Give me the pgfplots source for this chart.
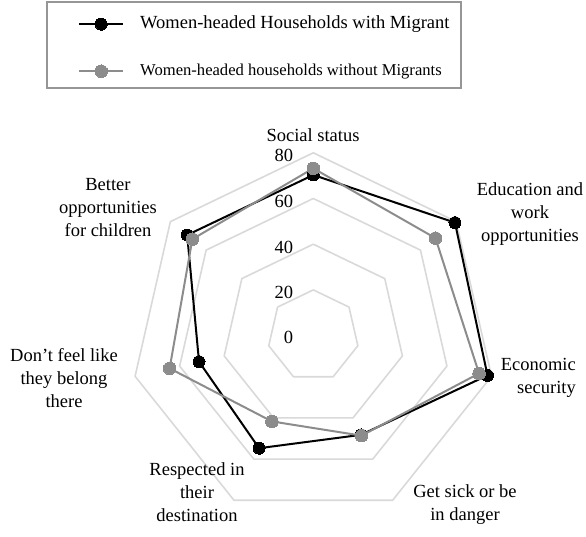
\documentclass[border=0pt]{standalone}
\usepackage{pgfplots}
\pgfplotsset{compat=1.18}
\usepgfplotslibrary{polar}
\usepackage{fontspec}
\setmainfont{Liberation Serif}
\definecolor{ring}{RGB}{217,217,217}
\definecolor{sergray}{RGB}{140,140,140}
\definecolor{framegray}{RGB}{150,150,150}
\newcommand{\ff}{\fontsize{18.5}{23}\selectfont}
\begin{document}
\begin{tikzpicture}[x=1pt,y=1pt,font=\ff]
\useasboundingbox (0,0) rectangle (586,537);
% legend frame
\draw[framegray, line width=1.3pt] (47,535) rectangle (461,449);
\begin{polaraxis}[
  at={(313.3pt,201.4pt)}, anchor=center,
  scale only axis, width=365.6pt, height=365.6pt,
  xmin=0, xmax=360, ymin=0, ymax=80,
  hide axis, clip=false,
  legend style={at={(-0.1436,1.3755)}, anchor=north west, draw=none, fill=none,
    inner xsep=0pt, inner ysep=0pt, row sep=30pt, column sep=16pt,
    font=\ff, cells={anchor=west},
    nodes={inner sep=0pt, text height=13pt, text depth=4pt}},
  legend image code/.code={\draw[mark repeat=2,mark phase=2,#1] plot coordinates {(0pt,0pt) (22pt,0pt) (44pt,0pt)};},
]
% grid rings
\addplot[ring, line width=1.6pt, forget plot, line join=round] coordinates {(90,20) (38.571,20) (-12.857,20) (-64.286,20) (-115.714,20) (-167.143,20) (141.429,20) (90,20)};
\addplot[ring, line width=1.6pt, forget plot, line join=round] coordinates {(90,40) (38.571,40) (-12.857,40) (-64.286,40) (-115.714,40) (-167.143,40) (141.429,40) (90,40)};
\addplot[ring, line width=1.6pt, forget plot, line join=round] coordinates {(90,60) (38.571,60) (-12.857,60) (-64.286,60) (-115.714,60) (-167.143,60) (141.429,60) (90,60)};
\addplot[ring, line width=1.6pt, forget plot, line join=round] coordinates {(90,80) (38.571,80) (-12.857,80) (-64.286,80) (-115.714,80) (-167.143,80) (141.429,80) (90,80)};
% series
\addplot[black, line width=2pt, line join=round, mark=*, mark size=6pt, mark options={fill=black, line width=0pt}] coordinates {
(90,70.3) (38.571,79.3) (-12.857,78.2) (-64.286,48.2) (-115.714,54.7) (-167.143,51.3) (141.429,70.6) (90,70.3)};
\addlegendentry{Women-headed Households with Migrant}
\addplot[sergray, line width=2pt, line join=round, mark=*, mark size=6.3pt, mark options={fill=sergray, draw=sergray, line width=0pt}] coordinates {
(90,73.2) (38.571,68.4) (-12.857,74.4) (-64.286,48.6) (-115.714,41.7) (-167.143,64.5) (141.429,67.7) (90,73.2)};
\addlegendentry{\fontsize{16.6}{20}\selectfont Women-headed households without Migrants}
% radial tick labels
\node[anchor=east, inner sep=0pt, xshift=-20pt, yshift=-3pt] at (axis cs:90,80) {80};
\node[anchor=east, inner sep=0pt, xshift=-20pt, yshift=-3pt] at (axis cs:90,60) {60};
\node[anchor=east, inner sep=0pt, xshift=-20pt, yshift=-3pt] at (axis cs:90,40) {40};
\node[anchor=east, inner sep=0pt, xshift=-20pt, yshift=-3pt] at (axis cs:90,20) {20};
\node[anchor=east, inner sep=0pt, xshift=-20pt, yshift=-2pt] at (axis cs:90,0) {0};
\end{polaraxis}
% category labels
\node[align=center, inner sep=0pt] at (313,402) {Social status};
\node[align=center, inner sep=0pt] at (530,323) {Education and\\work\\opportunities};
\node[align=right, inner sep=0pt, anchor=east] at (576,159.5) {Economic\\security};
\node[align=center, inner sep=0pt] at (465,32.5) {Get sick or be\\in danger};
\node[align=center, inner sep=0pt] at (197,45) {Respected in\\their\\destination};
\node[align=center, inner sep=0pt] at (64,159) {Don’t feel like\\they belong\\there};
\node[align=center, inner sep=0pt] at (108,329) {Better\\opportunities\\for children};
\end{tikzpicture}
\end{document}
